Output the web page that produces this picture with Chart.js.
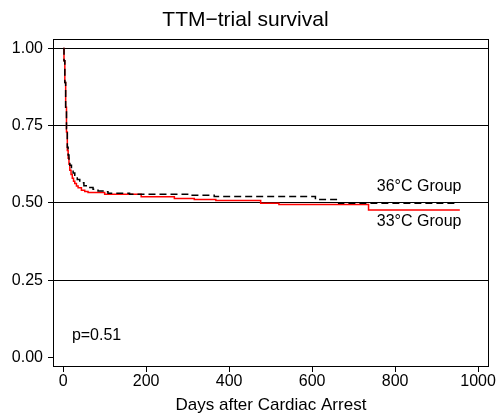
<!DOCTYPE html>
<html>
<head>
<meta charset="utf-8">
<script src="https://cdn.jsdelivr.net/npm/chart.js@4"></script>
<style>
  html, body { margin: 0; padding: 0; background: #fff; }
</style>
</head>
<body>
<canvas id="survivalChart" width="496" height="416"></canvas>
<script>
// Kaplan-Meier estimates, days after arrest vs. proportion alive
const daysWarm = [0, 2, 4, 6, 8, 10, 12, 14, 16, 20, 24, 28, 34, 40, 50, 60, 72, 84, 96, 108, 160, 300, 364, 608, 664, 950];
const survWarm = [1.00, 0.96, 0.89, 0.81, 0.74, 0.68, 0.655, 0.637, 0.622, 0.605, 0.597, 0.590, 0.576, 0.565, 0.556, 0.550, 0.544, 0.539, 0.536, 0.531, 0.5285, 0.525, 0.521, 0.511, 0.499, 0.499];

const daysCold = [0, 2, 4, 6, 8, 10, 12, 14, 16, 19, 22, 25, 28, 32, 36, 44, 52, 60, 100, 188, 268, 316, 368, 476, 520, 736, 956];
const survCold = [1.00, 0.96, 0.89, 0.81, 0.73, 0.67, 0.645, 0.625, 0.606, 0.592, 0.580, 0.570, 0.563, 0.555, 0.549, 0.541, 0.537, 0.534, 0.528, 0.520, 0.5146, 0.511, 0.508, 0.499, 0.495, 0.477, 0.477];

const xTicks = [0, 200, 400, 600, 800, 1000];
const yTicks = [0, 0.25, 0.5, 0.75, 1];

// text placed in data units: [label, day, survival, align]
const notes = [
  ['36°C Group', 960, 0.552, 'right'],
  ['33°C Group', 960, 0.439, 'right'],
  ['p=0.51', 21, 0.072, 'left']
];

const FONT = '"Liberation Sans", Arial, Helvetica, sans-serif';

function toPoints(xs, ys) {
  return xs.map((x, i) => ({ x: x, y: ys[i] }));
}

// box round the plot area plus the in-plot labels
const frameAndNotes = {
  id: 'frameAndNotes',
  afterDraw(chart) {
    const { ctx, chartArea: a, scales } = chart;
    ctx.save();
    ctx.strokeStyle = '#000';
    ctx.lineWidth = 1;
    ctx.strokeRect(Math.round(a.left) + 0.5, Math.round(a.top) + 0.5,
      Math.round(a.right - a.left) - 1, Math.round(a.bottom - a.top) - 1);

    ctx.fillStyle = '#000';
    ctx.font = '16px ' + FONT;
    ctx.textBaseline = 'middle';
    notes.forEach(n => {
      ctx.textAlign = n[3];
      ctx.fillText(n[0], scales.x.getPixelForValue(n[1]), scales.y.getPixelForValue(n[2]));
    });
    ctx.restore();
  }
};

new Chart(document.getElementById('survivalChart'), {
  type: 'line',
  data: {
    datasets: [{
      label: '36°C Group',
      data: toPoints(daysWarm, survWarm),
      borderColor: '#000',
      borderWidth: 1.5,
      borderDash: [7, 4],
      stepped: true,
      pointRadius: 0
    }, {
      label: '33°C Group',
      data: toPoints(daysCold, survCold),
      borderColor: '#ff0000',
      borderWidth: 1.5,
      stepped: true,
      pointRadius: 0
    }]
  },
  options: {
    responsive: false,
    animation: false,
    layout: { padding: { left: 0, right: 5, top: 0, bottom: 0 } },
    plugins: {
      legend: { display: false },
      tooltip: { enabled: false },
      title: {
        display: true,
        text: 'TTM\u2212trial survival',
        color: '#000',
        font: { family: FONT, size: 21, weight: 'normal' },
        padding: { top: 8, bottom: 6 }
      }
    },
    scales: {
      x: {
        type: 'linear',
        min: -24.5,
        max: 1026,
        afterBuildTicks: s => { s.ticks = xTicks.map(v => ({ value: v })); },
        afterFit: s => { s.height = 49; },
        border: { display: false },
        grid: { drawOnChartArea: false, color: '#000', tickLength: 5 },
        ticks: {
          color: '#000',
          padding: 0,
          maxRotation: 0,
          font: { family: FONT, size: 16 },
          callback: v => String(v)
        },
        title: {
          display: true,
          text: 'Days after Cardiac Arrest',
          color: '#000',
          font: { family: FONT, size: 17 },
          padding: { top: 0, bottom: 0 }
        }
      },
      y: {
        type: 'linear',
        min: -0.031,
        max: 1.03,
        afterBuildTicks: s => { s.ticks = yTicks.map(v => ({ value: v })); },
        afterFit: s => { s.width = 53; },
        border: { display: false },
        grid: {
          color: c => (c.tick && c.tick.value === 0 ? 'rgba(0,0,0,0)' : '#000'),
          tickColor: '#000',
          tickLength: 5
        },
        ticks: {
          color: '#000',
          padding: 5,
          font: { family: FONT, size: 16 },
          callback: v => Number(v).toFixed(2)
        }
      }
    }
  },
  plugins: [frameAndNotes]
});
</script>
</body>
</html>
